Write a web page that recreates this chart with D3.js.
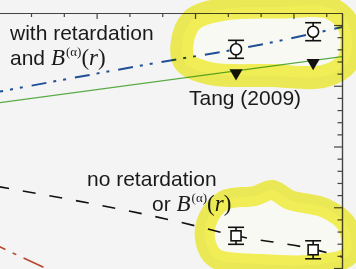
<!DOCTYPE html>
<html>
<head>
<meta charset="utf-8">
<script src="https://cdn.jsdelivr.net/npm/d3@7"></script>
<style>
  html, body { margin: 0; padding: 0; background: #f4f4f4; }
  svg { display: block; }
  .lab { font-family: "Liberation Sans", Arial, sans-serif; font-size: 21px; fill: #1a1a1a; }
  .math { font-family: "Liberation Serif", "Times New Roman", serif; }
</style>
</head>
<body>
<svg id="chart" width="356" height="269"></svg>
<script>
// curves (axis units)
const withRetX = [0, 5.5, 7.25, 9.6, 10.5];
const withRetY = [14.5, 17.2, 18.0, 19.3, 19.85];
const greenX = [0, 10.5];
const greenY = [13.6, 17.4];
const noRetX = [0, 5.5, 7.25, 9.6, 10.5];
const noRetY = [6.7, 3.8, 2.65, 1.55, 0.9];
const redX = [0, 1.9];
const redY = [1.8, -0.6];

// measured points
const circX = [7.25, 9.6];
const circY = [18.0, 19.45];
const circErr = [0.74, 0.74];
const sqX = [7.25, 9.6];
const sqY = [2.65, 1.5];
const sqErr = [0.7, 0.74];
const triX = [7.25, 9.6];   // Tang (2009)
const triY = [16.05, 16.9];

// tick positions
const xTicks = [1, 2, 3, 4, 5, 6, 7, 8, 9, 10];
const xMajor = [3, 6, 9];
const yTicks = d3.range(0, 21);
const yMajor = [0, 5, 10, 15, 20];

// highlighter loops (hand drawn on top of the figure)
const hlTopX = [5.6, 5.91, 6.91, 8.59, 10.12, 10.72, 10.66, 9.96, 8.29, 6.46, 5.7];
const hlTopY = [18.35, 20.41, 21.32, 21.48, 21.4, 19.75, 17.0, 15.8, 15.85, 16.0, 16.9];
const hlBotX = [6.4, 6.91, 7.83, 8.35, 8.9, 9.96, 10.63, 10.7, 9.81, 7.98, 6.61, 6.31];
const hlBotY = [4.12, 5.6, 5.93, 6.42, 5.6, 4.94, 3.54, 1.07, 0.33, 0.33, 0.82, 2.3];

const svg = d3.select("#chart");
const x = d3.scaleLinear().domain([0, 10.48]).range([-1.8, 342]);
const y = d3.scaleLinear().domain([-0.082, 20.99]).range([269, 13]);

svg.append("defs").append("clipPath").attr("id", "plot")
  .append("rect").attr("x", -5).attr("y", 13).attr("width", 347).attr("height", 270);

const zip = (a, b) => a.map((v, i) => [v, b[i]]);
const line = d3.line().x(d => x(d[0])).y(d => y(d[1]));
const curve = d3.line().x(d => x(d[0])).y(d => y(d[1])).curve(d3.curveMonotoneX);
const loop = d3.line().x(d => x(d[0])).y(d => y(d[1])).curve(d3.curveCatmullRomClosed);
const loops = [[hlTopX, hlTopY, 23], [hlBotX, hlBotY, 20]];

// pale inside of the highlighter loops, under everything
loops.forEach(([xs, ys]) => {
  svg.append("path").attr("d", loop(zip(xs, ys))).attr("fill", "#f9f9f3");
});

const g = svg.append("g").attr("clip-path", "url(#plot)");

g.append("path").attr("d", line(zip(redX, redY)))
  .attr("fill", "none").attr("stroke", "#b8452e").attr("stroke-width", 1.6)
  .attr("stroke-dasharray", "22 8 4 8").attr("stroke-dashoffset", 14);

g.append("path").attr("d", line(zip(greenX, greenY)))
  .attr("fill", "none").attr("stroke", "#5aaa45").attr("stroke-width", 1.3);

g.append("path").attr("d", curve(zip(withRetX, withRetY)))
  .attr("fill", "none").attr("stroke", "#1f4f96").attr("stroke-width", 2)
  .attr("stroke-dasharray", "15 7 3 7 3 9").attr("stroke-dashoffset", 10);

g.append("path").attr("d", curve(zip(noRetX, noRetY)))
  .attr("fill", "none").attr("stroke", "#111").attr("stroke-width", 1.6)
  .attr("stroke-dasharray", "13 14").attr("stroke-dashoffset", 2);

// error bars
function errBars(xs, ys, es, hw) {
  xs.forEach((xv, i) => {
    const eg = g.append("g").attr("stroke", "#111").attr("stroke-width", 1.6);
    const x0 = x(xv), y1 = y(ys[i] + es[i]), y2 = y(ys[i] - es[i]);
    eg.append("line").attr("x1", x0).attr("x2", x0).attr("y1", y1).attr("y2", y2);
    eg.append("line").attr("x1", x0 - hw).attr("x2", x0 + hw).attr("y1", y1).attr("y2", y1);
    eg.append("line").attr("x1", x0 - hw).attr("x2", x0 + hw).attr("y1", y2).attr("y2", y2);
  });
}
errBars(circX, circY, circErr, 8);
errBars(sqX, sqY, sqErr, 8);

g.selectAll("circle.pt").data(zip(circX, circY)).join("circle")
  .attr("cx", d => x(d[0])).attr("cy", d => y(d[1])).attr("r", 5.5)
  .attr("fill", "#fff").attr("stroke", "#111").attr("stroke-width", 1.6);

g.selectAll("rect.pt").data(zip(sqX, sqY)).join("rect")
  .attr("x", d => x(d[0]) - 5).attr("y", d => y(d[1]) - 5)
  .attr("width", 10).attr("height", 10)
  .attr("fill", "#fff").attr("stroke", "#111").attr("stroke-width", 1.6);

const tri = d3.symbol().type(d3.symbolTriangle).size(75);
g.selectAll("path.tri").data(zip(triX, triY)).join("path")
  .attr("d", tri)
  .attr("transform", d => `translate(${x(d[0])},${y(d[1])}) rotate(180)`)
  .attr("fill", "#111");

// axes: top and right, ticks inward
function styleAxis(sel) {
  sel.selectAll("path, line").attr("stroke", "#444").attr("stroke-width", 1.2);
  sel.selectAll("text").remove();
}
svg.append("g").attr("transform", "translate(0,13)")
  .call(d3.axisBottom(x).tickValues(xTicks.filter(t => !xMajor.includes(t))).tickSize(4).tickSizeOuter(0).tickFormat(""))
  .call(styleAxis);
svg.append("g").attr("transform", "translate(0,13)")
  .call(d3.axisBottom(x).tickValues(xMajor).tickSize(6).tickSizeOuter(0).tickFormat(""))
  .call(styleAxis);
svg.append("g").attr("transform", "translate(342,0)")
  .call(d3.axisLeft(y).tickValues(yTicks.filter(t => !yMajor.includes(t))).tickSize(4.5).tickSizeOuter(0).tickFormat(""))
  .call(styleAxis);
svg.append("g").attr("transform", "translate(342,0)")
  .call(d3.axisLeft(y).tickValues(yMajor).tickSize(8).tickSizeOuter(0).tickFormat(""))
  .call(styleAxis);

// labels
function bLabel(x0, y0, word) {
  const t = svg.append("text").attr("class", "lab").attr("x", x0).attr("y", y0);
  t.append("tspan").text(word + " ");
  t.append("tspan").attr("class", "math").attr("font-style", "italic").attr("font-size", 23).text("B");
  t.append("tspan").attr("class", "math").attr("font-size", 13).attr("dy", -9).attr("dx", 1).text("(α)");
  const p = t.append("tspan").attr("class", "math").attr("font-size", 23).attr("dy", 9);
  p.append("tspan").text("(");
  p.append("tspan").attr("font-style", "italic").text("r");
  p.append("tspan").text(")");
}
svg.append("text").attr("class", "lab").attr("x", 10).attr("y", 40).text("with retardation");
bLabel(10, 65, "and");
svg.append("text").attr("class", "lab").attr("x", 189).attr("y", 105).text("Tang (2009)");
svg.append("text").attr("class", "lab").attr("x", 87).attr("y", 186).text("no retardation");
bLabel(152, 211, "or");

// yellow highlighter strokes on top
loops.forEach(([xs, ys, w]) => {
  svg.append("path").attr("d", loop(zip(xs, ys)))
    .attr("fill", "none")
    .attr("stroke", "#f5f248").attr("stroke-opacity", 0.9)
    .attr("stroke-width", w).attr("stroke-linejoin", "round")
    .style("mix-blend-mode", "multiply");
});
</script>
</body>
</html>
